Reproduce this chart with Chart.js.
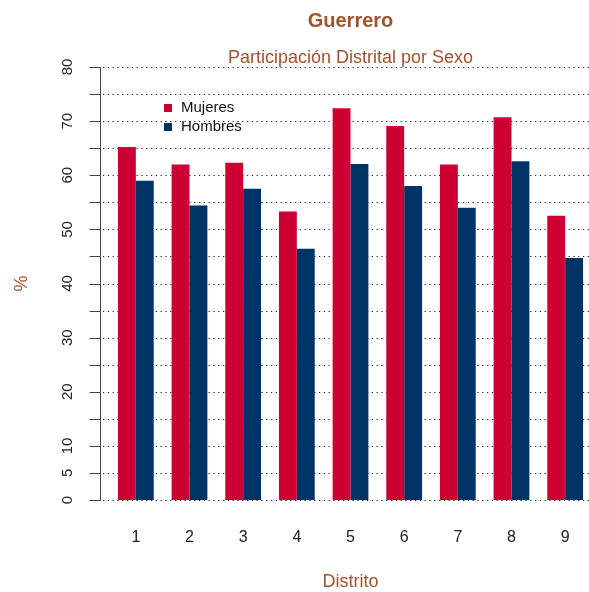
<!DOCTYPE html>
<html lang="es">
<head>
<meta charset="UTF-8">
<title>Guerrero - Participación Distrital por Sexo</title>
<style>
  html, body { margin: 0; padding: 0; background: #fff; overflow: hidden; }
  #wrap { width: 600px; height: 592px; position: relative; }
</style>
</head>
<body>
<div id="wrap"><canvas id="chart"></canvas></div>
<script src="https://cdn.jsdelivr.net/npm/chart.js"></script>
<script>
  // datos
  const distritos = ['1', '2', '3', '4', '5', '6', '7', '8', '9'];
  const mujeres = [65.2, 62.0, 62.3, 53.3, 72.4, 69.1, 62.0, 70.7, 52.5];
  const hombres = [59.0, 54.4, 57.5, 46.4, 62.1, 58.0, 54.0, 62.6, 44.7];
  const yMarcas = [0, 5, 10, 15, 20, 25, 30, 35, 40, 45, 50, 55, 60, 65, 70, 75, 80];
  const yEtiquetas = [0, 5, 10, 20, 30, 40, 50, 60, 70, 80];

  const ROJO = '#CC0033';
  const AZUL = '#003366';
  const SIENA = '#A0522D';
  const FUENTE = '"Liberation Sans", Arial, Helvetica, sans-serif';

  // eje Y, cuadricula y textos al estilo de R base
  const estiloR = {
    id: 'estiloR',
    beforeDatasetsDraw(chart) {
      const ctx = chart.ctx;
      const x = chart.scales.x, y = chart.scales.y;
      const w = x.getPixelForValue(1) - x.getPixelForValue(0);
      const ejeX = Math.round(x.getPixelForValue(0) - 2 * w / 3) + 0.5;
      ctx.save();
      // lineas punteadas
      ctx.strokeStyle = 'rgba(0,0,0,0.9)';
      ctx.lineWidth = 1;
      ctx.setLineDash([1.2, 3.6]);
      yMarcas.forEach(v => {
        const py = Math.round(y.getPixelForValue(v)) + 0.5;
        ctx.beginPath();
        ctx.moveTo(ejeX + 2.5, py);
        ctx.lineTo(chart.width, py);
        ctx.stroke();
      });
      // eje y marcas
      ctx.setLineDash([]);
      ctx.strokeStyle = '#444';
      ctx.beginPath();
      ctx.moveTo(ejeX, Math.round(y.getPixelForValue(0)) + 0.5);
      ctx.lineTo(ejeX, Math.round(y.getPixelForValue(80)) + 0.5);
      yMarcas.forEach(v => {
        const py = Math.round(y.getPixelForValue(v)) + 0.5;
        ctx.moveTo(ejeX - 11, py);
        ctx.lineTo(ejeX, py);
      });
      ctx.stroke();
      ctx.restore();
    },
    afterDraw(chart) {
      const ctx = chart.ctx;
      const x = chart.scales.x, y = chart.scales.y;
      const w = x.getPixelForValue(1) - x.getPixelForValue(0);
      const ejeX = x.getPixelForValue(0) - 2 * w / 3;
      const centro = (chart.chartArea.left + chart.chartArea.right) / 2;
      const medioY = (y.getPixelForValue(0) + y.getPixelForValue(80)) / 2;
      ctx.save();

      // etiquetas eje y (giradas)
      ctx.fillStyle = '#222';
      ctx.font = '15px ' + FUENTE;
      ctx.textAlign = 'center';
      ctx.textBaseline = 'middle';
      yEtiquetas.forEach(v => {
        ctx.save();
        ctx.translate(ejeX - 32, y.getPixelForValue(v));
        ctx.rotate(-Math.PI / 2);
        ctx.fillText(String(v), 0, 0);
        ctx.restore();
      });

      // etiquetas eje x
      ctx.font = '16px ' + FUENTE;
      ctx.textBaseline = 'alphabetic';
      distritos.forEach((d, i) => {
        ctx.fillText(d, x.getPixelForValue(i), 542);
      });

      // titulos
      ctx.fillStyle = SIENA;
      ctx.font = 'bold 20px ' + FUENTE;
      ctx.fillText('Guerrero', centro, 27);
      ctx.font = '18px ' + FUENTE;
      ctx.fillText('Participación Distrital por Sexo', centro, 63);
      ctx.fillText('Distrito', centro, 587);
      ctx.save();
      ctx.translate(27, medioY);
      ctx.rotate(-Math.PI / 2);
      ctx.textBaseline = 'alphabetic';
      ctx.fillText('%', 0, 0);
      ctx.restore();

      // leyenda
      ctx.font = '15px ' + FUENTE;
      ctx.textAlign = 'left';
      ctx.textBaseline = 'middle';
      chart.data.datasets.forEach((ds, i) => {
        const py = 108 + i * 19;
        ctx.fillStyle = ds.backgroundColor;
        ctx.fillRect(164, py - 4, 8, 8);
        ctx.fillStyle = '#111';
        ctx.fillText(ds.label, 181, py);
      });
      ctx.restore();
    }
  };

  new Chart(document.getElementById('chart'), {
    type: 'bar',
    data: {
      labels: distritos,
      datasets: [
        { label: 'Mujeres', data: mujeres, backgroundColor: ROJO, borderWidth: 0,
          categoryPercentage: 2 / 3, barPercentage: 1 },
        { label: 'Hombres', data: hombres, backgroundColor: AZUL, borderWidth: 0,
          categoryPercentage: 2 / 3, barPercentage: 1 }
      ]
    },
    options: {
      responsive: true,
      maintainAspectRatio: false,
      animation: false,
      layout: { padding: { left: 109, right: 8, top: 67, bottom: 92 } },
      scales: {
        x: { type: 'category', display: false, offset: true },
        y: { display: false, min: 0, max: 80 }
      },
      plugins: {
        legend: { display: false },
        tooltip: { enabled: false }
      }
    },
    plugins: [estiloR]
  });
</script>
</body>
</html>
